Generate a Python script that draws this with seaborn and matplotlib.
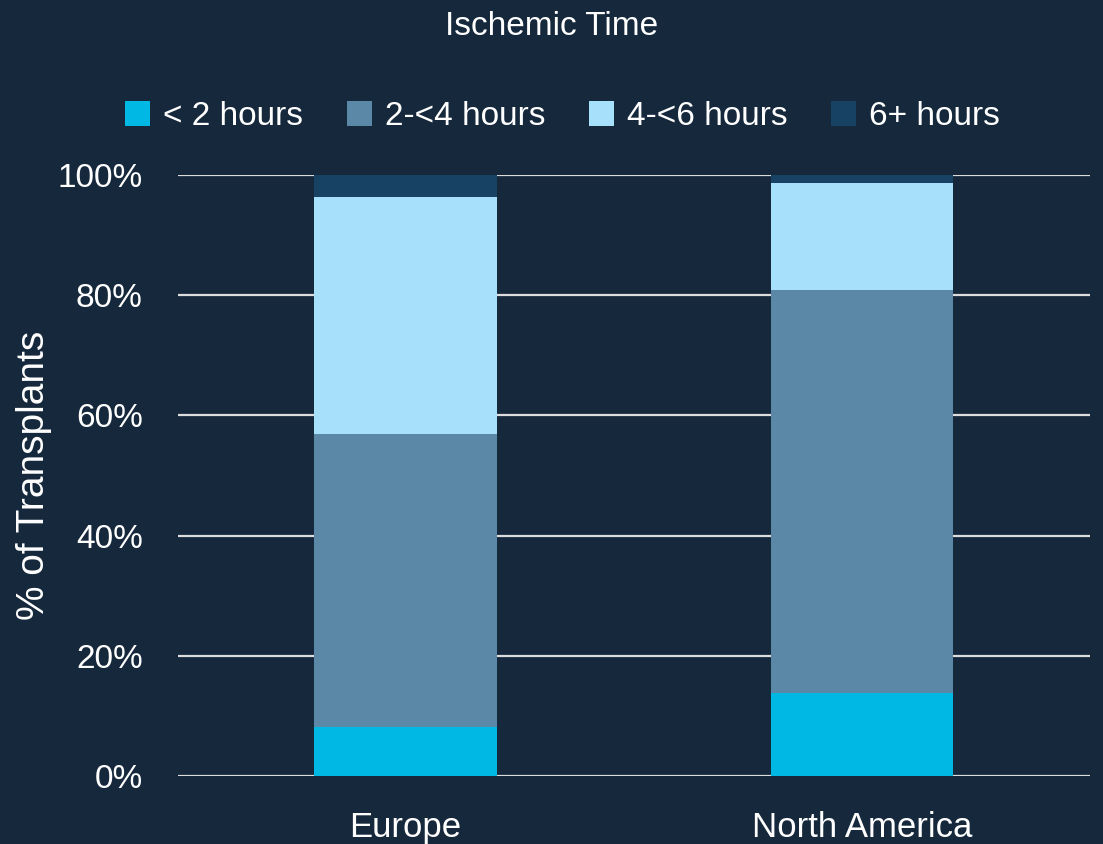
import matplotlib
matplotlib.use("Agg")
import matplotlib.pyplot as plt
import seaborn as sns
import pandas as pd
import numpy as np
from matplotlib.patches import Patch

regions = ["Europe", "North America"]
series_names = ["< 2 hours", "2-<4 hours", "4-<6 hours", "6+ hours"]
lt2 = [8.2, 13.8]
h2_4 = [48.7, 67.1]
h4_6 = [39.4, 17.8]
h6p = [3.7, 1.3]
yticks = [0, 20, 40, 60, 80, 100]
ytick_labels = ["0%", "20%", "40%", "60%", "80%", "100%"]

colors = ["#00b8e4", "#5a88a6", "#a6e0fb", "#184264"]
bg = "#15283c"

sns.set_theme(style="white")
plt.rcParams["font.family"] = ["Liberation Sans", "DejaVu Sans"]

fig = plt.figure(figsize=(11.03, 8.44), dpi=100, facecolor=bg)
ax = fig.add_axes([0.161, 0.0806, 0.827, 0.7121])
ax.set_facecolor(bg)

layers = [lt2, h2_4, h4_6, h6p]
bottom = np.zeros(len(regions))
for name, vals, col in zip(series_names, layers, colors):
    df = pd.DataFrame({"region": regions, "value": vals})
    sns.barplot(data=df, x="region", y="value", color=col, width=0.4,
                bottom=bottom, ax=ax, linewidth=0, saturation=1, zorder=3)
    bottom = bottom + np.array(vals)

ax.set_xlim(-0.5, 1.5)
ax.set_ylim(0, 100)
ax.set_yticks(yticks)
ax.set_yticklabels(ytick_labels)
ax.yaxis.grid(True, color="#dcdcdc", linewidth=1.6, zorder=0)
ax.xaxis.grid(False)
ax.set_axisbelow(True)
for s in ax.spines.values():
    s.set_visible(False)
ax.tick_params(axis="both", length=0, labelsize=24, colors="white")
ax.tick_params(axis="y", pad=25)
ax.tick_params(axis="x", pad=25, labelsize=25)
ax.set_xlabel("")
ax.set_ylabel("% of Transplants", fontsize=28, color="white", va="center")
ax.yaxis.set_label_coords(-0.157, 0.5)

fig.text(0.5, 0.969, "Ischemic Time", ha="center", va="center", fontsize=24, color="white")

handles = [Patch(facecolor=c, edgecolor="none") for c in colors]
fig.legend(handles, series_names, loc="center", bbox_to_anchor=(0.51, 0.862), ncol=4,
           frameon=False, fontsize=24, labelcolor="white", handlelength=0.75,
           handleheight=0.75, handletextpad=0.4, columnspacing=1.3)

fig.savefig("out.png", dpi=100, facecolor=bg)
